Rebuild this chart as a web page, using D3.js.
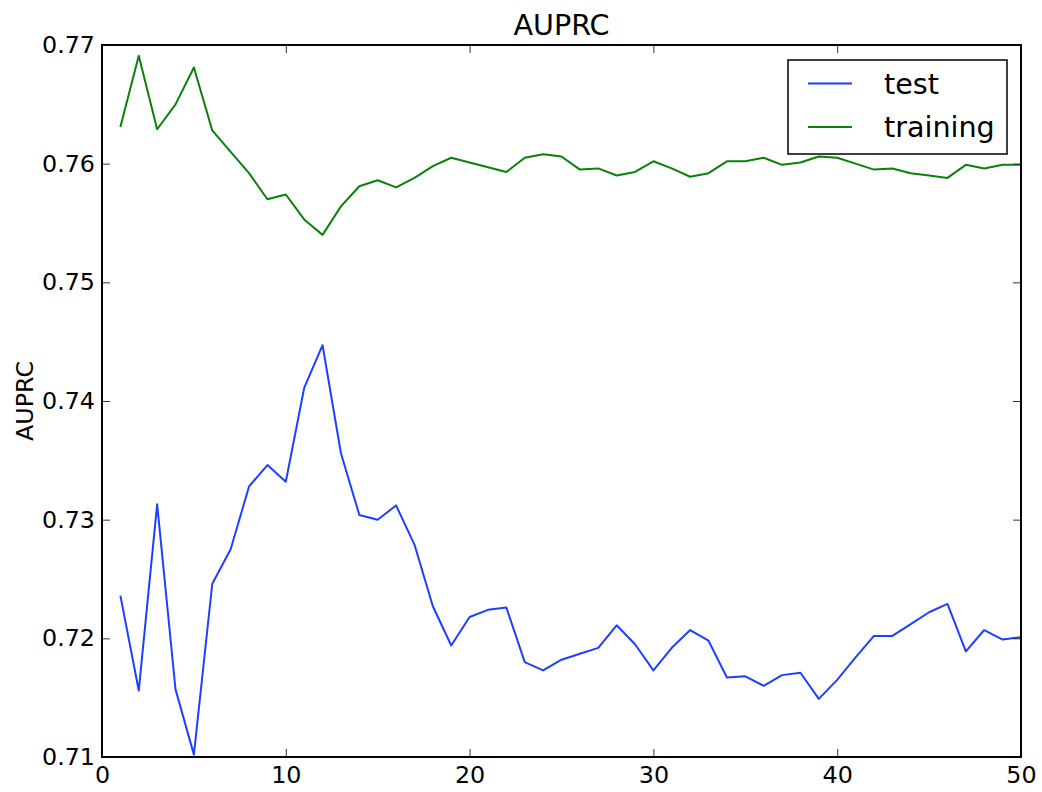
<!DOCTYPE html>
<html>
<head>
<meta charset="utf-8">
<script src="https://cdn.jsdelivr.net/npm/d3@7"></script>
<style>
  body { margin: 0; background: #fff; }
  text { font-family: "DejaVu Sans", sans-serif; fill: #000; }
</style>
</head>
<body>
<div id="chart"></div>
<script>
// epochs 1..50
const epochs = d3.range(1, 51);

const testValues = [
  0.7236, 0.7156, 0.7313, 0.7157, 0.7102, 0.7246, 0.7275, 0.7328, 0.7346, 0.7332,
  0.7411, 0.7447, 0.7356, 0.7304, 0.7300, 0.7312, 0.7279, 0.7227, 0.7194, 0.7218,
  0.7224, 0.7226, 0.7180, 0.7173, 0.7182, 0.7187, 0.7192, 0.7211, 0.7195, 0.7173,
  0.7192, 0.7207, 0.7198, 0.7167, 0.7168, 0.7160, 0.7169, 0.7171, 0.7149, 0.7165,
  0.7184, 0.7202, 0.7202, 0.7212, 0.7222, 0.7229, 0.7189, 0.7207, 0.7199, 0.7201
];

const trainingValues = [
  0.7631, 0.7691, 0.7629, 0.7650, 0.7681, 0.7628, 0.7610, 0.7592, 0.7570, 0.7574,
  0.7553, 0.7540, 0.7564, 0.7581, 0.7586, 0.7580, 0.7588, 0.7598, 0.7605, 0.7601,
  0.7597, 0.7593, 0.7605, 0.7608, 0.7606, 0.7595, 0.7596, 0.7590, 0.7593, 0.7602,
  0.7596, 0.7589, 0.7592, 0.7602, 0.7602, 0.7605, 0.7599, 0.7601, 0.7606, 0.7605,
  0.7600, 0.7595, 0.7596, 0.7592, 0.7590, 0.7588, 0.7599, 0.7596, 0.7599, 0.7599
];

const seriesNames = ["test", "training"];
const seriesColors = ["#1f3fff", "#0b800b"];
const xTicks = [0, 10, 20, 30, 40, 50];
const yTicks = [0.71, 0.72, 0.73, 0.74, 0.75, 0.76, 0.77];

const width = 1042;
const height = 792;
const margin = {left: 102, right: 21, top: 45, bottom: 35};
const plotW = width - margin.left - margin.right;
const plotH = height - margin.top - margin.bottom;
const tickLen = 8;
const tickFont = "23.8px";
const bigFont = "28.6px";

const svg = d3.select("#chart")
              .append("svg")
              .attr("width", width)
              .attr("height", height);

const g = svg.append("g")
             .attr("transform", "translate(" + margin.left + "," + margin.top + ")");

let x = d3.scaleLinear().domain([0, 50]).range([0, plotW]);
let y = d3.scaleLinear().domain([0.71, 0.77]).range([plotH, 0]);

// lines
const line = d3.line()
               .x(function(d, i) { return x(epochs[i]); })
               .y(function(d) { return y(d); });

const allSeries = [testValues, trainingValues];
g.selectAll(".series")
 .data(allSeries)
 .enter()
 .append("path")
 .attr("class", "series")
 .attr("d", function(d) { return line(d); })
 .attr("fill", "none")
 .attr("stroke", function(d, i) { return seriesColors[i]; })
 .attr("stroke-width", 2)
 .attr("stroke-linejoin", "round");

// axes, ticks pointing inward like matplotlib classic
const bottomAxis = g.append("g")
  .attr("transform", "translate(0," + plotH + ")")
  .call(d3.axisBottom(x).tickValues(xTicks).tickSize(-tickLen).tickPadding(9).tickFormat(d3.format("d")));
const topAxis = g.append("g")
  .call(d3.axisTop(x).tickValues(xTicks).tickSize(-tickLen).tickFormat(""));
const leftAxis = g.append("g")
  .call(d3.axisLeft(y).tickValues(yTicks).tickSize(-tickLen).tickPadding(7).tickFormat(d3.format(".2f")));
const rightAxis = g.append("g")
  .attr("transform", "translate(" + plotW + ",0)")
  .call(d3.axisRight(y).tickValues(yTicks).tickSize(-tickLen).tickFormat(""));

[bottomAxis, topAxis, leftAxis, rightAxis].forEach(function(a) {
  a.select(".domain").remove();
  a.selectAll(".tick line").attr("stroke", "#333").attr("stroke-width", 1);
  a.selectAll("text").style("font-size", tickFont).attr("fill", "#000");
});

// frame
g.append("rect")
 .attr("x", 0).attr("y", 0)
 .attr("width", plotW).attr("height", plotH)
 .attr("fill", "none")
 .attr("stroke", "#000")
 .attr("stroke-width", 2);

// title + y label
svg.append("text")
   .attr("x", margin.left + plotW / 2)
   .attr("y", 35)
   .attr("text-anchor", "middle")
   .style("font-size", bigFont)
   .text("AUPRC");

svg.append("text")
   .attr("transform", "translate(33," + (margin.top + plotH / 2) + ") rotate(-90)")
   .attr("text-anchor", "middle")
   .style("font-size", tickFont)
   .text("AUPRC");

// legend
const legend = svg.append("g").attr("transform", "translate(788,60)");
legend.append("rect")
      .attr("width", 219).attr("height", 94)
      .attr("fill", "#fff")
      .attr("stroke", "#000")
      .attr("stroke-width", 1.5);

const items = legend.selectAll(".item")
  .data(seriesNames)
  .enter()
  .append("g")
  .attr("class", "item")
  .attr("transform", function(d, i) { return "translate(0," + (23.5 + i * 43.5) + ")"; });

items.append("line")
     .attr("x1", 20).attr("x2", 64)
     .attr("stroke", function(d, i) { return seriesColors[i]; })
     .attr("stroke-width", 2);

items.append("text")
     .attr("x", 96)
     .attr("y", 10)
     .style("font-size", bigFont)
     .text(function(d) { return d; });
</script>
</body>
</html>
